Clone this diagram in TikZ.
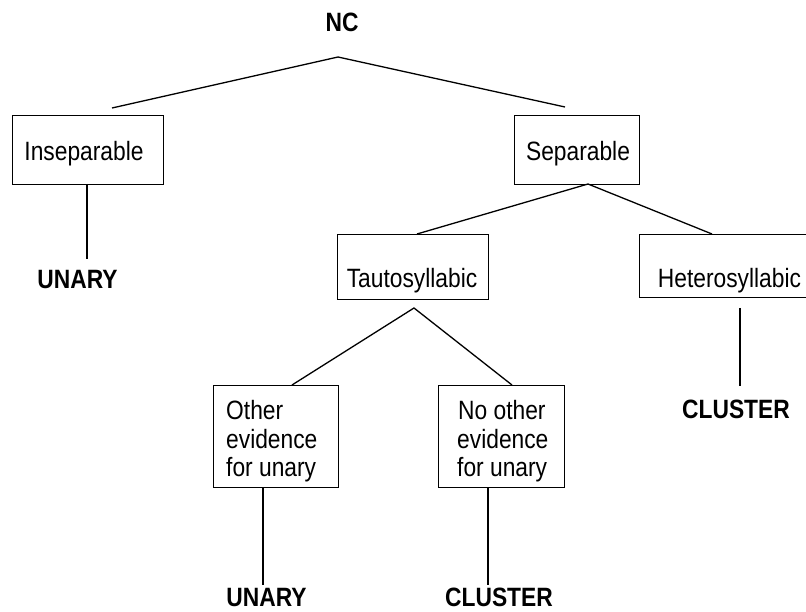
\documentclass[tikz,border=0pt]{standalone}
\usepackage{fontspec}
\setmainfont{Liberation Sans}[FakeStretch=0.86]
\begin{document}
\begin{tikzpicture}[x=1pt,y=-1pt,
  box/.style={draw,line width=1.3pt,inner sep=0pt,anchor=north west},
  lbl/.style={inner sep=0pt,anchor=base,font=\fontsize{26.5}{28}\selectfont},
  lblw/.style={inner sep=0pt,anchor=base west,font=\fontsize{26.5}{28}\selectfont},
  blbl/.style={inner sep=0pt,anchor=base,font=\fontsize{26.5}{28}\selectfont\bfseries},
  conn/.style={line width=1.3pt}]
\useasboundingbox (0,0) rectangle (806,612);
\clip (0,0) rectangle (806,612);
% boxes
\node[box,minimum width=151pt,minimum height=69pt] (insep) at (12,115) {};
\node[box,minimum width=125pt,minimum height=69pt] (sep) at (514,115) {};
\node[box,minimum width=151pt,minimum height=65pt] (taut) at (337,234) {};
\node[box,minimum width=182pt,minimum height=63pt] (het) at (639,234) {};
\node[box,minimum width=125pt,minimum height=102pt] (other) at (213,385) {};
\node[box,minimum width=126pt,minimum height=102pt] (noother) at (438,385) {};
% texts
\node[blbl] (nc) at (342,32) {NC};
\node[lbl] (insept) at (84,161) {Inseparable};
\node[lbl] (sept) at (578,161) {Separable};
\node[lbl] (tautt) at (412,288) {Tautosyllabic};
\node[lbl] (hett) at (729.5,288) {Heterosyllabic};
\node[lblw] (o1) at (226,419) {Other};
\node[lblw] (o2) at (226,448) {evidence};
\node[lblw] (o3) at (226,476) {for unary};
\node[lblw] (n1) at (458,419) {No other};
\node[lblw] (n2) at (457,448) {evidence};
\node[lblw] (n3) at (457,476) {for unary};
\node[blbl] (u1) at (77.5,289) {UNARY};
\node[blbl] (u2) at (266.5,606) {UNARY};
\node[blbl] (c1) at (499,606) {CLUSTER};
\node[blbl] (c2) at (736,418) {CLUSTER};
% connector points
\coordinate (ncA) at (338,57);
\coordinate (ncL) at (112,108);
\coordinate (ncR) at (565,107);
\coordinate (i1) at (87,184);
\coordinate (i2) at (87,259);
\coordinate (sA) at (588,184);
\coordinate (sL) at (417,234);
\coordinate (sR) at (712,234);
\coordinate (tA) at (414,308);
\coordinate (tL) at (292,385);
\coordinate (tR) at (512,385);
\coordinate (o4) at (263,487);
\coordinate (o5) at (263,585);
\coordinate (n4) at (488,487);
\coordinate (n5) at (488,585);
\coordinate (h1) at (740,308);
\coordinate (h2) at (740,386);
% connectors
\draw[conn] (ncL) -- (ncA) -- (ncR);
\draw[conn] (i1) -- (i2);
\draw[conn] (sL) -- (sA) -- (sR);
\draw[conn] (tL) -- (tA) -- (tR);
\draw[conn] (o4) -- (o5);
\draw[conn] (n4) -- (n5);
\draw[conn] (h1) -- (h2);
\end{tikzpicture}
\end{document}
